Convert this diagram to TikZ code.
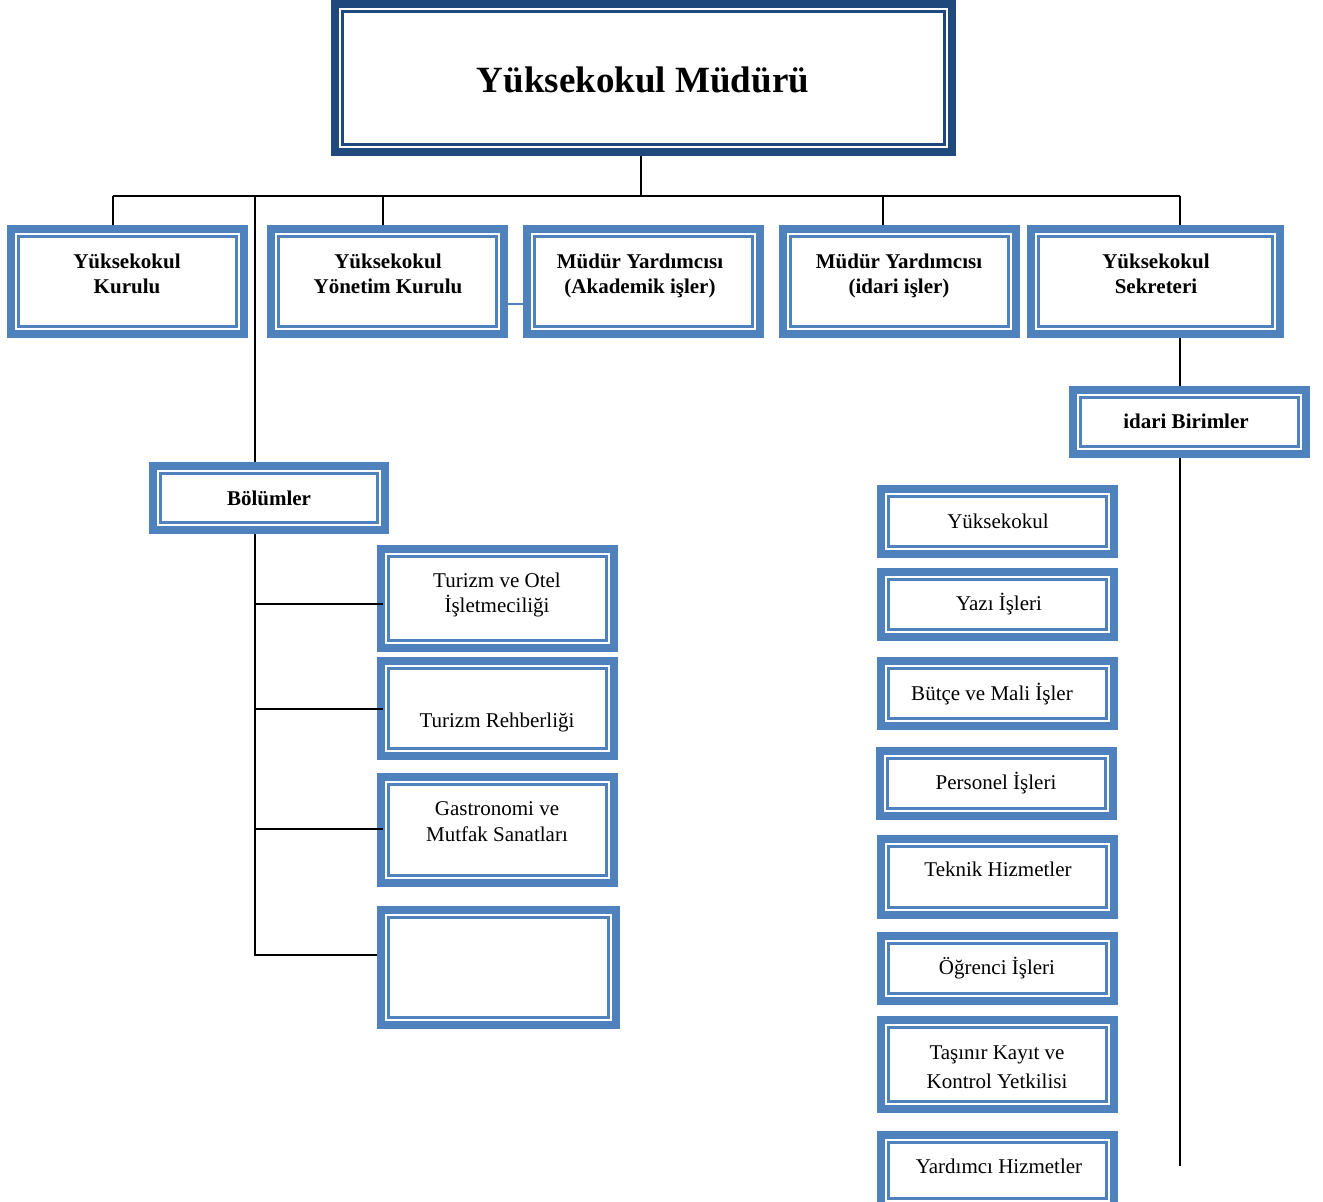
\documentclass[tikz,border=0pt]{standalone}
\usepackage{fontspec}
\setmainfont{Liberation Serif}
\definecolor{bl}{HTML}{4F81BD}
\definecolor{nv}{HTML}{1F497D}
\tikzset{
  obox/.style={fill=#1, draw=none, inner sep=0pt, outer sep=0pt,
    path picture={
      \fill[white] ([shift={(8pt,-8pt)}]path picture bounding box.north west) rectangle ([shift={(-8pt,8pt)}]path picture bounding box.south east);
      \draw[#1, line width=2.5pt] ([shift={(11.5pt,-11.5pt)}]path picture bounding box.north west) rectangle ([shift={(-11.5pt,11.5pt)}]path picture bounding box.south east);
    }},
  btxt/.style={font=\fontsize{21}{25}\selectfont\bfseries, align=center, inner sep=0pt},
  rtxt/.style={font=\fontsize{21}{25}\selectfont, align=center, inner sep=0pt},
  conn/.style={black, line width=1.9pt},
}
\newcommand\obx[6][bl]{%
  \node[obox=#1, minimum width={#5-#3}, minimum height={#6-#4}] (#2) at ({(#3+#5)/2},{(#4+#6)/2}) {};}
\begin{document}
\begin{tikzpicture}[x=1pt,y=-1pt]
\useasboundingbox[fill=white] (0,0) rectangle (1323,1202);
% boxes
\obx[nv]{top}{331}{0}{956}{156}
\obx{b1}{7}{225}{248}{338}
\obx{b2}{267}{225}{508}{338}
\obx{b3}{523}{225}{764}{338}
\obx{b4}{779}{225}{1020}{338}
\obx{b5}{1027}{225}{1284}{338}
\obx{bol}{149}{462}{389}{534}
\obx{ib}{1069}{386}{1310}{458}
\obx{d1}{377}{545}{618}{652}
\obx{d2}{377}{657}{618}{760}
\obx{d3}{377}{773}{618}{887}
\obx{d4}{377}{906}{620}{1029}
\obx{r1}{877}{485}{1118}{558}
\obx{r2}{877}{568}{1118}{641}
\obx{r3}{877}{657}{1118}{730}
\obx{r4}{876}{747}{1117}{820}
\obx{r5}{877}{835}{1118}{919}
\obx{r6}{877}{932}{1118}{1005}
\obx{r7}{877}{1016}{1118}{1113}
\obx{r8}{877}{1131}{1118}{1210}
% texts
\node[font=\fontsize{37}{44}\selectfont\bfseries, inner sep=0pt] (ttop) at (643,80) {Yüksekokul Müdürü};
\node[btxt] (t1) at (127,274) {Yüksekokul\\Kurulu};
\node[btxt] (t2) at (388,274) {Yüksekokul\\Yönetim Kurulu};
\node[btxt] (t3) at (640,275.5) {Müdür Yardımcısı\\(Akademik işler)};
\node[btxt] (t4) at (899,275.5) {Müdür Yardımcısı\\(idari işler)};
\node[btxt] (t5) at (1156,274) {Yüksekokul\\Sekreteri};
\node[btxt] (tbol) at (269,498) {Bölümler};
\node[btxt] (tib) at (1186,421) {idari Birimler};
\node[rtxt] (td1) at (497,594.5) {Turizm ve Otel\\İşletmeciliği};
\node[rtxt] (td2) at (497,722) {Turizm Rehberliği};
\node[rtxt, font=\fontsize{21}{26}\selectfont] (td3) at (497,822) {Gastronomi ve\\Mutfak Sanatları};
\node[rtxt] (tr1) at (998,521) {Yüksekokul};
\node[rtxt] (tr2) at (999,604) {Yazı İşleri};
\node[rtxt] (tr3) at (992,694) {Bütçe ve Mali İşler};
\node[rtxt] (tr4) at (996,783) {Personel İşleri};
\node[rtxt] (tr5) at (998,869.5) {Teknik Hizmetler};
\node[rtxt] (tr6) at (997,968) {Öğrenci İşleri};
\node[rtxt, font=\fontsize{21}{29}\selectfont] (tr7) at (997,1067) {Taşınır Kayıt ve\\Kontrol Yetkilisi};
\node[rtxt] (tr8) at (999,1166.5) {Yardımcı Hizmetler};
% connectors
\coordinate (busL) at (113,196);
\coordinate (busR) at (1180,196);
\coordinate (x0) at (641,196);
\coordinate (x2) at (383,196);
\coordinate (x4) at (883,196);
\coordinate (trunk) at (255,196);
\draw[conn] (x0 |- top.south) -- (x0);
\draw[conn] (busL) -- (busR);
\draw[conn] (busL) -- (busL |- b1.north);
\draw[conn] (x2) -- (x2 |- b2.north);
\draw[conn] (x4) -- (x4 |- b4.north);
\draw[conn] (busR) -- (busR |- b5.north);
\draw[conn] (trunk) -- (trunk |- bol.north);
\coordinate (j1) at (255,604);
\coordinate (j2) at (255,709);
\coordinate (j3) at (255,829);
\coordinate (j4) at (255,955);
\draw[conn] (trunk |- bol.south) -- (j4) -- (j4 -| d4.west);
\draw[conn] (j1) -- ([xshift=6pt]j1 -| d1.west);
\draw[conn] (j2) -- ([xshift=6pt]j2 -| d2.west);
\draw[conn] (j3) -- ([xshift=6pt]j3 -| d3.west);
\coordinate (bl1) at (508,304);
\draw[bl, line width=1.5pt] (bl1 -| b2.east) -- (bl1 -| b3.west);
\coordinate (rend) at (1180,1166);
\draw[conn] (busR |- b5.south) -- (busR |- ib.north);
\draw[conn] (rend |- ib.south) -- (rend);
\end{tikzpicture}
\end{document}
